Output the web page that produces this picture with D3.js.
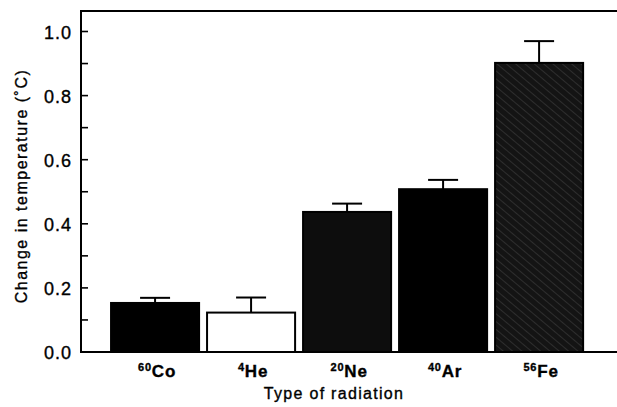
<!DOCTYPE html>
<html>
<head>
<meta charset="utf-8">
<script src="https://cdn.jsdelivr.net/npm/d3@7"></script>
<style>
  body { margin: 0; background: #fff; }
  text { font-family: "Liberation Sans", Arial, sans-serif; fill: #000; stroke: #000; stroke-width: 0.35px; }
</style>
</head>
<body>
<svg id="chart" width="617" height="407"></svg>
<script>
// Data
const isotopes = ["60", "4", "20", "40", "56"];
const elements = ["Co", "He", "Ne", "Ar", "Fe"];
const values = [0.153, 0.123, 0.437, 0.508, 0.902];
const errors = [0.016, 0.047, 0.026, 0.029, 0.068];
const fills = ["#000", "#fff", "#0d0d0d", "#000", "url(#hatch)"];
const yTicks = [0.0, 0.2, 0.4, 0.6, 0.8, 1.0];

const svg = d3.select("#chart");
const plotLeft = 81, plotRight = 617, plotTop = 11, plotBottom = 352;

// hatch texture for the last bar
const pat = svg.append("defs").append("pattern")
    .attr("id", "hatch")
    .attr("patternUnits", "userSpaceOnUse")
    .attr("width", 6).attr("height", 6)
    .attr("patternTransform", "rotate(-50)");
pat.append("rect").attr("width", 6).attr("height", 6).attr("fill", "#141414");
pat.append("line").attr("x1", 0).attr("y1", 0).attr("x2", 0).attr("y2", 6)
    .attr("stroke", "#555").attr("stroke-width", 0.8);

const y = d3.scaleLinear().domain([0, 1]).range([plotBottom, 31.5]);
const x = d3.scaleBand().domain(elements).range([plotLeft, plotRight])
    .paddingInner(0.083).paddingOuter(0.333).align(0.47);

//Bars
svg.append("g").selectAll("rect")
    .data(elements)
    .enter()
    .append("rect")
    .attr("x", d => x(d))
    .attr("y", (d, i) => y(values[i]))
    .attr("width", x.bandwidth())
    .attr("height", (d, i) => y(0) - y(values[i]))
    .attr("fill", (d, i) => fills[i])
    .attr("stroke", "#000")
    .attr("stroke-width", 2);

//Error bars (upper only)
const err = svg.append("g").attr("stroke", "#000").attr("stroke-width", 2);
elements.forEach((d, i) => {
    const cx = x(d) + x.bandwidth() / 2;
    err.append("line")
        .attr("x1", cx).attr("x2", cx)
        .attr("y1", y(values[i])).attr("y2", y(values[i] + errors[i]));
    err.append("line")
        .attr("x1", cx - 15).attr("x2", cx + 15)
        .attr("y1", y(values[i] + errors[i])).attr("y2", y(values[i] + errors[i]));
});

//Frame: left, bottom, top
const frame = svg.append("g").attr("stroke", "#000").attr("stroke-width", 2).attr("fill", "none");
frame.append("path").attr("d", `M${plotRight},${plotTop}H${plotLeft}V${plotBottom}H${plotRight}`);

//Y ticks (inward), minor at 0.1
const ticks = svg.append("g").attr("stroke", "#000").attr("stroke-width", 1.6);
d3.range(0, 1.05, 0.1).forEach(v => {
    ticks.append("line")
        .attr("x1", plotLeft).attr("x2", plotLeft + 7)
        .attr("y1", y(v)).attr("y2", y(v));
});
svg.append("g").selectAll("text")
    .data(yTicks)
    .enter()
    .append("text")
    .attr("x", 72)
    .attr("y", d => y(d) + 7)
    .attr("text-anchor", "end")
    .attr("font-size", 18)
    .attr("letter-spacing", 1)
    .text(d => d.toFixed(1));

//X category labels with superscript mass numbers
const xl = svg.append("g").selectAll("text")
    .data(elements)
    .enter()
    .append("text")
    .attr("x", d => x(d) + x.bandwidth() / 2 + 2)
    .attr("y", 377)
    .attr("text-anchor", "middle")
    .attr("font-size", 17)
    .attr("letter-spacing", 0.8)
    .attr("font-weight", "bold");
xl.append("tspan")
    .attr("font-size", 11)
    .attr("dy", -6)
    .text((d, i) => isotopes[i]);
xl.append("tspan")
    .attr("dy", 6)
    .text(d => d);

//Axis titles
svg.append("text")
    .attr("x", 334).attr("y", 399)
    .attr("text-anchor", "middle")
    .attr("font-size", 16)
    .attr("letter-spacing", 1.3)
    .text("Type of radiation");

svg.append("text")
    .attr("transform", "translate(27,186) rotate(-90)")
    .attr("text-anchor", "middle")
    .attr("font-size", 16)
    .attr("letter-spacing", 1.5)
    .text("Change in temperature (˚C)");
</script>
</body>
</html>
